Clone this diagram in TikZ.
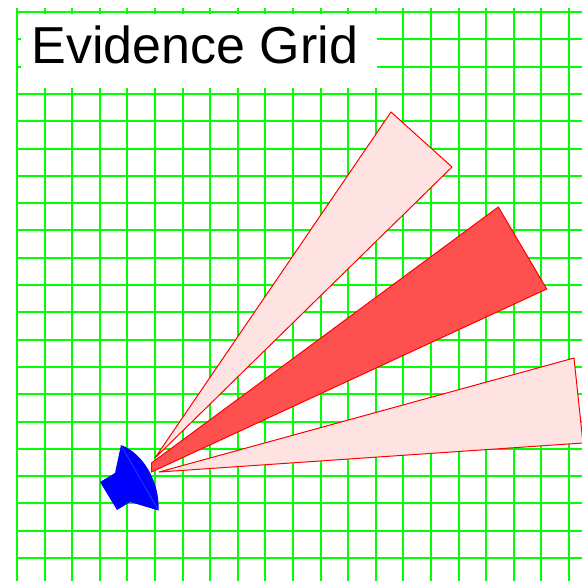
\documentclass[tikz,border=0pt]{standalone}
\usepackage{fontspec}
\setmainfont{Liberation Sans}
\usepackage{xcolor}
\definecolor{gridgreen}{RGB}{0,255,0}
\definecolor{beamlight}{RGB}{255,226,226}
\definecolor{beamdark}{RGB}{255,80,80}
\definecolor{robotblue}{RGB}{0,0,255}
\definecolor{chordblue}{RGB}{90,110,255}
\tikzset{
  gridline/.style={gridgreen, line width=2pt},
  beam/.style={draw=red, line width=1pt, line join=miter},
}
\begin{document}
\begin{tikzpicture}[x=1pt, y=-1pt]
  \useasboundingbox (0,0) rectangle (582,582);
  \clip (0,0) rectangle (582,582);
  % Grid
  \foreach \i in {0,...,20} {
    \pgfmathsetmacro{\xpos}{17 + \i * 27.6}
    \pgfmathsetmacro{\ypos}{12 + \i * 27.3}
    \draw[gridline] (\xpos,8) -- (\xpos,581);
    \draw[gridline] (17,\ypos) -- (582,\ypos);
  }
  % Title
  \fill[white] (21,13.5) rectangle (377,88);
  \node[font=\fontsize{52}{60}\selectfont, anchor=base west, inner sep=0pt] (title) at (31.5,63) {Evidence Grid};
  % Beams
  \filldraw[beam, fill=beamlight] (155,458) -- (391,112) -- (452,167) -- cycle;
  \filldraw[beam, fill=beamlight] (159,472) -- (574,358) -- (583,443) -- cycle;
  \filldraw[beam, fill=beamdark] (151.5,463) -- (498.3,207) -- (546.7,289) -- (151.5,472) -- cycle;
  % Robot
  \fill[robotblue] (121,445) .. controls (143,453) and (160,482) .. (158.5,510.5) -- (130,502) -- (117,510) -- (100,482) -- (115,473) -- cycle;
  \draw[chordblue, line width=0.3pt] (121,445) -- (158.5,510.5);
\end{tikzpicture}
\end{document}
